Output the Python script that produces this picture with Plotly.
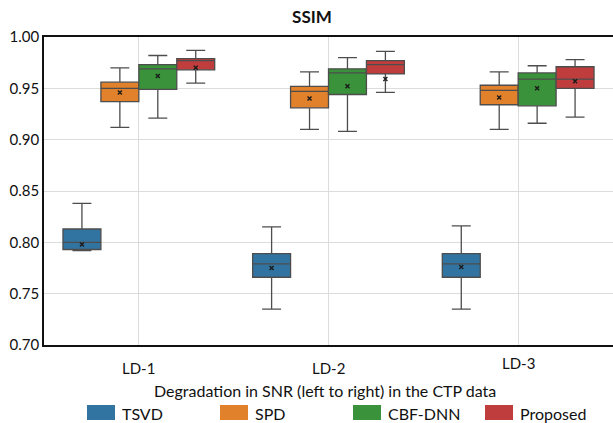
import plotly.graph_objects as go

# ---- data ----
categories = ["LD-1", "LD-2", "LD-3"]
methods = ["TSVD", "SPD", "CBF-DNN", "Proposed"]
colors = ["#3274a1", "#e1812c", "#3a923a", "#c03d3e"]

upper = {
    "TSVD":     [0.838, 0.815, 0.816],
    "SPD":      [0.970, 0.966, 0.966],
    "CBF-DNN":  [0.982, 0.980, 0.972],
    "Proposed": [0.987, 0.986, 0.978],
}
q3 = {
    "TSVD":     [0.813, 0.789, 0.789],
    "SPD":      [0.956, 0.952, 0.953],
    "CBF-DNN":  [0.973, 0.969, 0.965],
    "Proposed": [0.979, 0.977, 0.971],
}
median = {
    "TSVD":     [0.800, 0.779, 0.779],
    "SPD":      [0.950, 0.947, 0.948],
    "CBF-DNN":  [0.969, 0.965, 0.959],
    "Proposed": [0.977, 0.973, 0.959],
}
q1 = {
    "TSVD":     [0.793, 0.766, 0.766],
    "SPD":      [0.937, 0.931, 0.934],
    "CBF-DNN":  [0.949, 0.944, 0.933],
    "Proposed": [0.968, 0.964, 0.950],
}
lower = {
    "TSVD":     [0.792, 0.735, 0.735],
    "SPD":      [0.912, 0.910, 0.910],
    "CBF-DNN":  [0.921, 0.908, 0.916],
    "Proposed": [0.955, 0.946, 0.922],
}
mean = {
    "TSVD":     [0.798, 0.775, 0.776],
    "SPD":      [0.946, 0.940, 0.941],
    "CBF-DNN":  [0.962, 0.952, 0.950],
    "Proposed": [0.970, 0.959, 0.957],
}
ytick_vals = [0.70, 0.75, 0.80, 0.85, 0.90, 0.95, 1.00]
title_text = "SSIM"
xlabel_text = "Degradation in SNR (left to right) in the CTP data"

# ---- layout constants ----
W, H = 613, 423
ML, MR, MT, MB = 44, 0, 37, 78
PW, PH = W - ML - MR, H - MT - MB
FONT = "Lato"
BW = 0.2  # box width in category units

def px2paper_x(px):
    return (px - ML) / PW

def px2paper_y(py):
    return (H - MB - py) / PH

fig = go.Figure()
nm = len(methods)
for k, m in enumerate(methods):
    xs = [gi + (k - (nm - 1) / 2) * BW for gi in range(len(categories))]
    fig.add_trace(go.Box(
        x=xs, q1=q1[m], median=median[m], q3=q3[m],
        lowerfence=lower[m], upperfence=upper[m],
        width=BW, whiskerwidth=0.5,
        fillcolor=colors[k], line=dict(color="#4d4d4d", width=1.3),
        name=m, showlegend=False, hoverinfo="skip",
    ))
    fig.add_trace(go.Scatter(
        x=xs, y=mean[m], mode="markers",
        marker=dict(symbol="x-thin", size=4, line=dict(color="#1a1a1a", width=1.4)),
        showlegend=False, hoverinfo="skip",
    ))

# x category labels (LD-3 sits slightly higher in the reference)
label_y = [368, 368, 363]
annotations = []
for gi, c in enumerate(categories):
    annotations.append(dict(
        x=gi, xref="x", y=px2paper_y(label_y[gi]), yref="paper",
        text=c, showarrow=False, font=dict(family=FONT, size=15, color="#111"),
        xanchor="center", yanchor="middle",
    ))
annotations.append(dict(
    x=px2paper_x(325), xref="paper", y=px2paper_y(390), yref="paper",
    text=xlabel_text, showarrow=False, font=dict(family=FONT, size=16, color="#111"),
    xanchor="center", yanchor="middle",
))

# manual legend
legend_left = [87, 220, 353, 485]
shapes = []
for k, m in enumerate(methods):
    x0 = legend_left[k]
    shapes.append(dict(
        type="rect", xref="paper", yref="paper",
        x0=px2paper_x(x0), x1=px2paper_x(x0 + 28),
        y0=px2paper_y(420), y1=px2paper_y(405),
        fillcolor=colors[k], line=dict(width=0),
    ))
    annotations.append(dict(
        x=px2paper_x(x0 + 33), xref="paper", y=px2paper_y(413), yref="paper",
        text=m, showarrow=False, font=dict(family=FONT, size=16, color="#111"),
        xanchor="left", yanchor="middle",
    ))

fig.update_layout(
    width=W, height=H,
    margin=dict(l=ML, r=MR, t=MT, b=MB),
    paper_bgcolor="white", plot_bgcolor="white",
    title=dict(text="<b>" + title_text + "</b>", x=px2paper_x(312), xref="paper",
               y=1 - 17 / H, yanchor="middle", xanchor="center",
               font=dict(family=FONT, size=17, color="#111")),
    xaxis=dict(range=[-0.5, 2.5], tickvals=[0, 1, 2], showticklabels=False,
               showgrid=True, gridcolor="#dcdcdc", gridwidth=1, zeroline=False,
               showline=True, linecolor="#111", linewidth=2, mirror=True),
    yaxis=dict(range=[0.70, 1.00], tickvals=ytick_vals, tickformat=".2f",
               showgrid=True, gridcolor="#dcdcdc", gridwidth=1, zeroline=False,
               showline=True, linecolor="#111", linewidth=1.5, mirror=False,
               ticks="", tickfont=dict(family=FONT, size=15, color="#111")),
    annotations=annotations, shapes=shapes,
)

fig.write_html(
    "out.html",
    config={"displayModeBar": False},
    post_script="document.body.style.margin='0';document.body.style.overflow='hidden';",
)
